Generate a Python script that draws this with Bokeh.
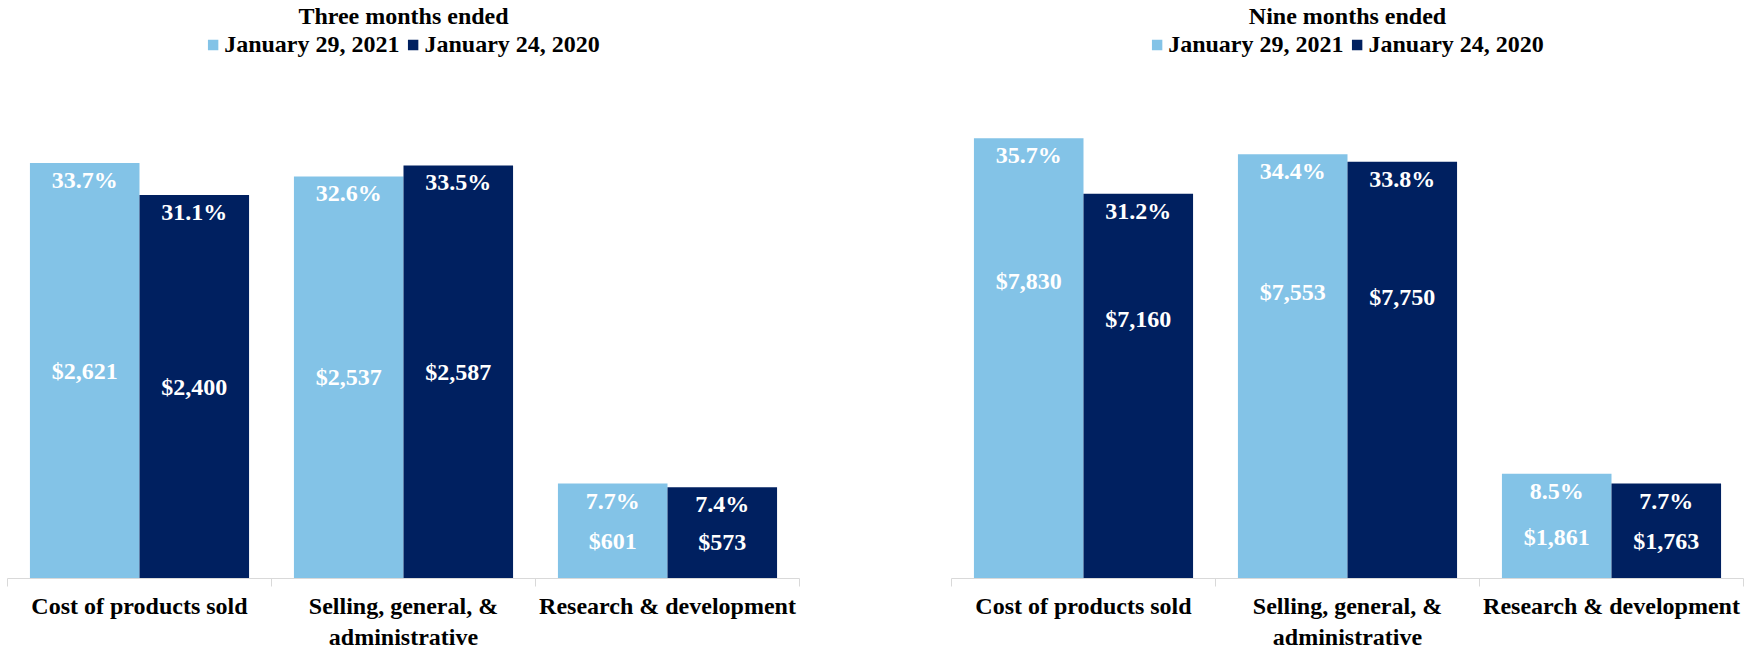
import numpy as np
from bokeh.plotting import figure
from bokeh.models import Range1d, FixedTicker, Legend, LegendItem, Title
from bokeh.layouts import row
from bokeh.embed import file_html
from bokeh.resources import INLINE
from bokeh.core.properties import value

# ---------------- data ----------------
categories = ["Cost of products sold", "Selling, general, &\nadministrative", "Research & development"]
series_names = ["January 29, 2021", "January 24, 2020"]
chart_titles = ["Three months ended", "Nine months ended"]

three_pct_2021 = [33.7, 32.6, 7.7]
three_pct_2020 = [31.1, 33.5, 7.4]
three_usd_2021 = [2621, 2537, 601]
three_usd_2020 = [2400, 2587, 573]

nine_pct_2021 = [35.7, 34.4, 8.5]
nine_pct_2020 = [31.2, 33.8, 7.7]
nine_usd_2021 = [7830, 7553, 1861]
nine_usd_2020 = [7160, 7750, 1763]

# ---------------- style ----------------
LIGHT = "#83C3E7"
DARK = "#002060"
AXIS_GRAY = "#D9D9D9"
FONT = "Liberation Serif"
BAR_W = 0.415
Y_MAX = 44.6
FIG_H = 652


def make_chart(title, pct_a, pct_b, usd_a, usd_b, usd_frac, width, border_left, border_right):
    p = figure(width=width, height=FIG_H, x_range=Range1d(0, 3), y_range=Range1d(0, Y_MAX),
               output_backend="svg", toolbar_location=None, title=None,
               min_border_left=border_left, min_border_right=border_right,
               min_border_top=0, min_border_bottom=10)
    p.outline_line_color = None
    p.grid.visible = False
    p.yaxis.visible = False
    p.background_fill_color = "white"

    n = len(categories)
    centers = np.arange(n) + 0.5
    xa = centers - BAR_W / 2
    xb = centers + BAR_W / 2

    ra = p.vbar(x=xa, top=pct_a, width=BAR_W, fill_color=LIGHT, line_color=None)
    rb = p.vbar(x=xb, top=pct_b, width=BAR_W, fill_color=DARK, line_color=None)

    for xs, pcts, usds in ((xa, pct_a, usd_a), (xb, pct_b, usd_b)):
        pcts_arr = np.array(pcts, dtype=float)
        p.text(x=xs, y=pcts_arr, text=[f"{v:.1f}%" for v in pcts],
               text_font=value(FONT), text_font_style="bold", text_font_size="24px",
               text_color="white", text_align="center", text_baseline="middle", y_offset=17)
        usd_y = np.where(pcts_arr > 20, pcts_arr * usd_frac, pcts_arr * 0.4)
        p.text(x=xs, y=usd_y, text=[f"${v:,}" for v in usds],
               text_font=value(FONT), text_font_style="bold", text_font_size="24px",
               text_color="white", text_align="center", text_baseline="middle")

    ax = p.xaxis[0]
    ax.ticker = FixedTicker(ticks=list(centers), minor_ticks=list(np.arange(n + 1).astype(float)))
    ax.major_label_overrides = {float(c): lab for c, lab in zip(centers, categories)}
    ax.axis_line_color = AXIS_GRAY
    ax.major_tick_line_color = None
    ax.major_tick_out = 0
    ax.major_tick_in = 0
    ax.minor_tick_line_color = AXIS_GRAY
    ax.minor_tick_out = 8
    ax.minor_tick_in = 0
    ax.major_label_standoff = 6
    ax.major_label_text_font = FONT
    ax.major_label_text_font_style = "bold"
    ax.major_label_text_font_size = "24px"
    ax.major_label_text_color = "black"

    legend = Legend(items=[LegendItem(label=series_names[0], renderers=[ra]),
                           LegendItem(label=series_names[1], renderers=[rb])],
                    orientation="horizontal", location="top_center",
                    border_line_color=None, background_fill_alpha=0,
                    padding=0, margin=3, spacing=7, label_standoff=5,
                    glyph_width=13, glyph_height=13,
                    label_text_font=FONT, label_text_font_style="bold",
                    label_text_font_size="24px", label_text_color="black")
    p.add_layout(legend)
    p.add_layout(Title(text=title, align="center", text_font=FONT, text_font_style="bold",
                       text_font_size="24px", text_color="black", standoff=0, offset=0), "above")
    return p


p1 = make_chart(chart_titles[0], three_pct_2021, three_pct_2020, three_usd_2021, three_usd_2020,
                0.5, 880, 7, 81)
p2 = make_chart(chart_titles[1], nine_pct_2021, nine_pct_2020, nine_usd_2021, nine_usd_2020,
                0.675, 872, 71, 9)

layout = row(p1, p2)
open("out.html", "w").write(file_html(layout, INLINE))
